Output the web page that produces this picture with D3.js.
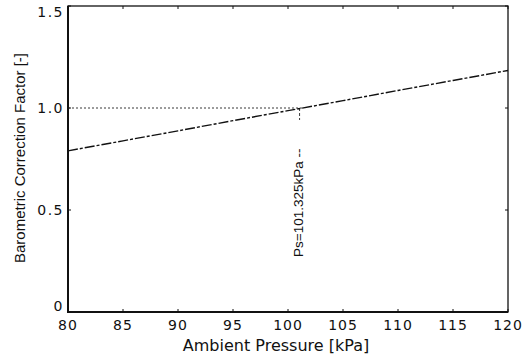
<!DOCTYPE html>
<html lang="en">
<head>
<meta charset="UTF-8">
<title>Barometric Correction Factor</title>
<script src="https://d3js.org/d3.v7.min.js"></script>
<style>
    body { margin: 0; background: #fff; font-family: "DejaVu Sans", sans-serif; }
    text { fill: #111; }
</style>
</head>
<body>
<div id="chart"></div>
<script>
// values
const pressure = [80, 85, 90, 95, 100, 105, 110, 115, 120];
const factor = [0.790, 0.839, 0.888, 0.938, 0.987, 1.036, 1.086, 1.135, 1.184];
const xTicks = [80, 85, 90, 95, 100, 105, 110, 115, 120];
const yTicks = [0, 0.5, 1.0, 1.5];
const yTickLabels = ["0", "0.5", "1.0", "1.5"];
const refPressure = 101.325;
const refFactor = 1.0;

const width = 531, height = 355;
const x = d3.scaleLinear().domain([80, 120]).range([68, 508]);
const y = d3.scaleLinear().domain([0, 1.5]).range([312, 6]);

const svg = d3.select('#chart').append('svg')
    .attr('width', width).attr('height', height);

// frame
svg.append('rect')
    .attr('x', x(80)).attr('y', y(1.5))
    .attr('width', x(120) - x(80)).attr('height', y(0) - y(1.5))
    .attr('fill', 'none').attr('stroke', '#111').attr('stroke-width', 1.3);
svg.append('path')
    .attr('d', `M${x(80)},${y(1.5)}V${y(0)}H${x(120)}`)
    .attr('fill', 'none').attr('stroke', '#111').attr('stroke-width', 2);

// ticks, inside on all four sides
xTicks.forEach(t => {
    svg.append('line').attr('x1', x(t)).attr('x2', x(t)).attr('y1', y(0)).attr('y2', y(0) - 3)
        .attr('stroke', '#111');
    svg.append('line').attr('x1', x(t)).attr('x2', x(t)).attr('y1', y(1.5)).attr('y2', y(1.5) + 3)
        .attr('stroke', '#111');
    svg.append('text').attr('x', x(t)).attr('y', 330)
        .attr('text-anchor', 'middle').style('font-size', '14px')
        .style('letter-spacing', '1px').text(t);
});
yTicks.forEach((t, i) => {
    svg.append('line').attr('x1', x(80)).attr('x2', x(80) + 3).attr('y1', y(t)).attr('y2', y(t))
        .attr('stroke', '#111');
    svg.append('line').attr('x1', x(120)).attr('x2', x(120) - 3).attr('y1', y(t)).attr('y2', y(t))
        .attr('stroke', '#111');
    // labels sit inside the frame's height, as in the scan
    const ly = Math.min(Math.max(y(t), 12), 306);
    svg.append('text').attr('x', 64).attr('y', ly)
        .attr('text-anchor', 'end').attr('dy', '0.35em')
        .style('font-size', '14px').style('letter-spacing', '1.5px')
        .text(yTickLabels[i]);
});

// reference lines at Ps
svg.append('line')
    .attr('x1', x(80)).attr('x2', x(refPressure))
    .attr('y1', y(refFactor)).attr('y2', y(refFactor))
    .attr('stroke', '#222').attr('stroke-width', 0.9).attr('stroke-dasharray', '2,2');
svg.append('line')
    .attr('x1', x(refPressure) - 3).attr('x2', x(refPressure) - 3)
    .attr('y1', y(refFactor)).attr('y2', y(refFactor) + 12)
    .attr('stroke', '#222').attr('stroke-width', 0.9).attr('stroke-dasharray', '3,2');

svg.append('text')
    .attr('transform', `translate(${x(refPressure)},257) rotate(-90)`)
    .style('font-family', '"Liberation Sans", Arial, sans-serif')
    .style('font-size', '13.5px').text('Ps=101.325kPa --');

// curve
const line = d3.line().x((d, i) => x(pressure[i])).y(d => y(d));
svg.append('path')
    .datum(factor)
    .attr('d', line)
    .attr('fill', 'none').attr('stroke', '#111').attr('stroke-width', 1.4)
    .attr('stroke-dasharray', '10,2,3,2');

// axis titles
svg.append('text')
    .attr('x', 276).attr('y', 351)
    .attr('text-anchor', 'middle').style('font-size', '16px')
    .text('Ambient Pressure [kPa]');
svg.append('text')
    .attr('transform', `translate(25,158) rotate(-90)`)
    .attr('text-anchor', 'middle')
    .style('font-family', '"Liberation Sans", Arial, sans-serif')
    .style('font-size', '15px')
    .text('Barometric Correction Factor [-]');
</script>
</body>
</html>
